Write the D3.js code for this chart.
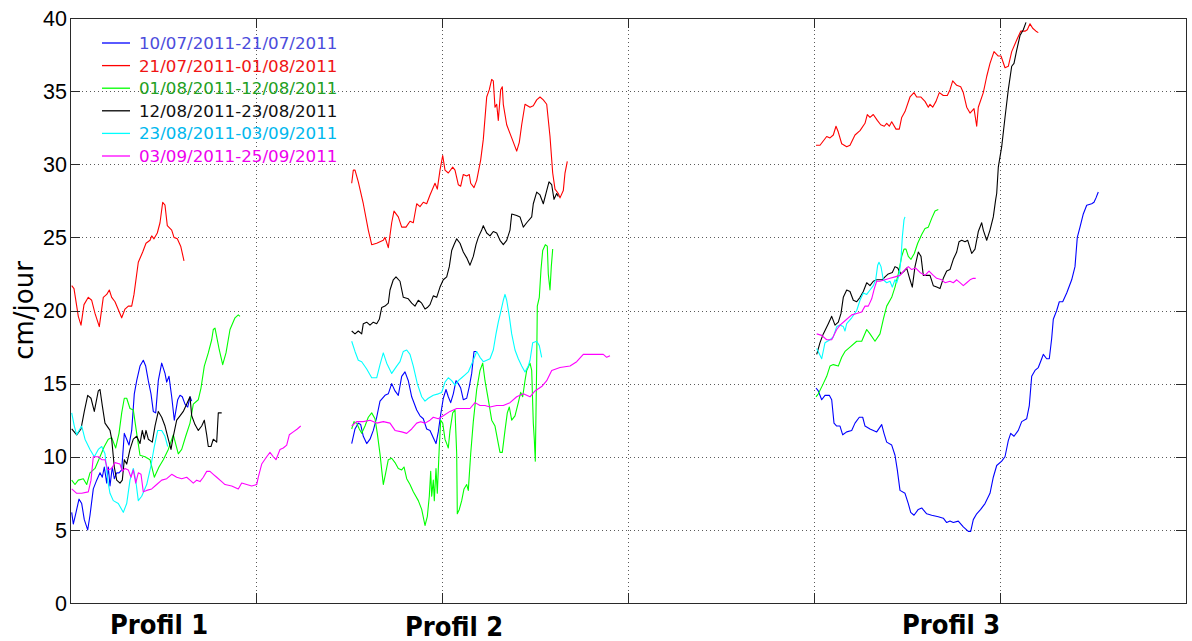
<!DOCTYPE html>
<html>
<head>
<meta charset="utf-8">
<script src="https://cdn.jsdelivr.net/npm/d3@7"></script>
<style>
  html, body { margin: 0; padding: 0; background: #fff; }
  svg { display: block; }
</style>
</head>
<body>
<svg id="chart" width="1192" height="641"></svg>
<script>
// Périodes de mesure (légende) et couleurs associées
const periods = [
  "10/07/2011-21/07/2011",
  "21/07/2011-01/08/2011",
  "01/08/2011-12/08/2011",
  "12/08/2011-23/08/2011",
  "23/08/2011-03/09/2011",
  "03/09/2011-25/09/2011"
];
const lineColors = ["#0000ff", "#ff0000", "#00ff00", "#000000", "#00ffff", "#ff00ff"];
const textColors = ["#4c4cdc", "#f01414", "#22a022", "#111111", "#00b8ee", "#ee00ee"];

const yTicks = [0, 5, 10, 15, 20, 25, 30, 35, 40];
const xTicks = [0, 186, 372, 558, 744, 930, 1116];
const profils = [
  { label: "Profil 1", at: 89 },
  { label: "Profil 2", at: 384 },
  { label: "Profil 3", at: 881 }
];

// Vitesses (cm/jour) le long des trois profils : [position, vitesse]
const juil10 = [
  [[1.7,6.2],[3.3,5.4],[5.7,6.1],[9,7.1],[11.7,6.8],[14.3,5.7],[17.7,5.0],[20,6.0],[23.3,7.8],[26.7,8.4],[30,8.9],[32.3,8.6],[34.3,9.3],[36.7,8.2],[38.3,9.3],[40,8.0],[42.3,9.3],[44.3,8.5],[46.7,8.9],[49,8.9],[51.7,9.1],[54.3,11.6],[56.7,11.2],[59,10.8],[61.7,11.8],[64.3,14.3],[66.7,15.2],[70,16.2],[73.3,16.6],[75.7,16.2],[78.3,15.2],[81,14.3],[83.3,13.1],[85.7,13.0],[88.3,15.2],[91.7,16.4],[95,15.7],[96.7,15.1],[99,15.5],[101.7,14.1],[104.3,12.5],[107.7,13.9],[110,14.2],[112.3,14.1],[115,13.6],[117.7,13.4],[120,14.1],[121.7,13.8]],
  [[281.7,10.9],[285,11.9],[288.3,12.3],[290.7,12.2],[293.3,11.4],[296.7,10.9],[300,11.2],[303.3,11.8],[306.7,12.7],[310,13.8],[315,14.2],[318.3,14.3],[321.7,15.0],[325,14.5],[328.3,14.2],[331.7,15.5],[335,15.8],[338.3,15.2],[341.7,14.1],[346.7,13.2],[350,12.8],[353.3,12.6],[356.7,11.9],[360,11.8],[363.3,11.3],[366,10.9],[368.3,11.7],[370.7,12.9],[373.3,14.0],[376,14.6],[378.3,14.1],[380.7,13.7],[383.3,14.3],[386,15.2],[388.3,15.0],[390.7,14.7],[393.3,13.9],[396.7,14.0],[399.3,14.8],[401.7,15.7],[404,17.2],[406.7,17.2]],
  [[746,14.7],[748.3,14.5],[751.7,13.9],[755,14.2],[759.3,14.2],[761.7,13.9],[764,12.3],[766.7,12.1],[770,12.1],[772.7,11.5],[776.7,11.7],[781.7,11.8],[785,12.3],[789.3,12.7],[792.7,12.7],[795,12.1],[800,11.9],[806.7,11.7],[811.7,12.2],[814,11.6],[816.7,11.0],[821.7,10.8],[825,10.1],[827.3,9.1],[830,7.7],[835,7.5],[838.3,6.8],[840.7,6.2],[844,6.0],[848.3,6.4],[851.7,6.5],[856.7,6.1],[861.7,6.0],[868.3,5.9],[873.3,5.8],[876.7,5.5],[880,5.6],[883.3,5.5],[888.3,5.6],[893.3,5.2],[898.3,4.9],[900.7,4.9],[903.3,5.7],[906.7,6.1],[910.7,6.4],[915,6.8],[920,7.5],[923.3,8.6],[926.7,9.4],[931.7,9.7],[935,10.0],[938.3,11.1],[940.7,11.6],[944,11.4],[948.3,11.8],[951.7,12.4],[956.7,12.6],[959.3,13.5],[961.7,15.5],[965,15.9],[968.3,16.1],[971.7,16.7],[973.3,17.0],[976.7,16.7],[979.3,16.7],[981.7,18.1],[983.3,19.4],[986.7,20.0],[989.3,20.6],[992.7,20.6],[996.7,21.2],[1001.7,22.1],[1005,23.0],[1007.3,25.0],[1010,25.7],[1013.3,26.6],[1016.7,27.2],[1021.7,27.3],[1024,27.4],[1026,27.7],[1028.3,28.1]]
];

const juil21 = [
  [[1.7,21.7],[4,21.5],[8.3,19.6],[11,19.0],[14,20.4],[18.3,20.9],[21.7,20.7],[25,19.8],[29.3,18.9],[33.3,20.9],[36.7,21.1],[39.3,21.4],[41.7,20.9],[45,20.6],[51.7,19.5],[55,20.1],[58.3,20.3],[61.7,20.3],[64,21.1],[68.3,23.3],[72.7,24.0],[76,24.6],[80,24.8],[81.7,25.1],[84,24.9],[87.3,25.3],[90,26.0],[92.7,27.4],[95,27.2],[97.3,25.8],[101.7,25.5],[104,25.0],[107.3,24.9],[110.7,24.4],[114,23.4]],
  [[281.7,28.7],[283.3,29.6],[285,29.6],[288.3,28.8],[293.3,27.3],[298.3,25.5],[301.7,24.5],[306.7,24.6],[313.3,24.8],[315,25.0],[318.3,24.3],[321.7,26.0],[324,26.8],[328.3,26.4],[331.7,25.7],[336,25.7],[340,26.1],[343.3,26.0],[346.7,27.3],[350,27.1],[353.3,27.4],[356.7,27.3],[360,27.9],[365,28.7],[367.3,28.3],[370,29.6],[372.7,30.6],[375,29.6],[378.3,29.4],[382.7,29.8],[385,29.6],[388.3,28.6],[390.7,28.5],[393.3,29.3],[396.7,29.2],[399.3,29.3],[400.7,28.7],[404,28.4],[406.7,28.9],[410.7,30.3],[413.3,31.7],[416.7,34.6],[419.3,35.1],[421.7,35.8],[423.3,35.7],[425,33.9],[426.7,34.1],[428.3,33.0],[430.7,35.1],[432.3,35.3],[433.3,34.1],[436.7,32.7],[441.7,31.8],[446.7,30.9],[449.3,31.5],[451.7,32.7],[455,34.1],[460,33.9],[463.3,34.0],[466.7,34.4],[470,34.6],[473.3,34.4],[476.7,34.1],[480,31.9],[482.7,29.4],[485,28.3],[488.3,28.0],[490,27.7],[493.3,28.2],[495,29.4],[497.3,30.2]],
  [[746,31.3],[750,31.3],[756.7,31.9],[760,31.8],[763.3,32.0],[766,32.6],[768.3,32.2],[771.7,31.4],[776.7,31.2],[780,31.3],[785,32.0],[790,32.3],[795,32.8],[797.3,33.4],[800,33.2],[803.3,33.4],[807.3,33.0],[810.7,32.7],[814.3,32.6],[816.7,32.8],[819.3,32.6],[821.7,32.9],[826,32.4],[829.3,32.4],[831.7,33.2],[835,33.6],[840,34.6],[844,34.9],[846.7,34.6],[850.7,34.6],[855,34.3],[858.3,33.9],[860,34.1],[862.7,33.9],[866,34.3],[869.3,34.9],[873.3,34.7],[877.3,34.7],[880,35.1],[882.7,35.7],[886.7,35.4],[890.7,35.3],[893.3,34.9],[896.7,33.9],[900,33.5],[904,33.8],[906.7,32.6],[908.3,33.9],[913.3,34.9],[916.7,36.0],[920,36.9],[924,37.7],[928.3,37.4],[931,37.4],[935,36.6],[938.3,36.7],[941.7,37.7],[946.7,38.5],[950.7,39.1],[955,39.1],[957.3,39.2],[960,39.6],[962.7,39.3],[966,39.1],[968.3,39.0]]
];

const aout01 = [
  [[1.7,8.4],[5,8.1],[8.3,8.4],[13.3,8.5],[16.7,8.1],[20,8.9],[25,9.2],[30,10.0],[34.3,10.7],[38.3,11.2],[41.7,11.3],[45.7,10.6],[49,11.6],[51.7,13.0],[54.3,14.0],[56.7,14.0],[60,13.3],[63.3,13.2],[66.7,11.6],[70,10.1],[75,10.0],[80,9.8],[84.3,8.6],[89,9.3],[93.3,9.8],[98.3,10.5],[103.3,11.5],[108.3,10.2],[111.7,10.5],[115.7,11.4],[120,12.3],[123.3,13.6],[128.3,13.9],[131,14.7],[134.3,16.2],[138.3,17.1],[141.7,18.0],[143.3,18.7],[145,18.8],[149.3,17.3],[152.7,16.3],[156,17.1],[160,18.7],[165,19.5],[168.3,19.7],[170,19.6]],
  [[281.7,11.9],[284,12.4],[286.7,12.3],[289.3,11.9],[291.7,11.6],[295,12.1],[298.3,12.7],[301.7,13.0],[305,12.6],[307.3,11.6],[310,10.2],[311.7,9.1],[313.3,8.1],[315.7,8.9],[318.3,9.8],[321.7,9.9],[325,9.6],[328.3,9.2],[331.7,9.1],[334,9.3],[336.7,8.5],[340,8.1],[343.3,7.6],[348.3,7.0],[351.7,6.4],[355,5.3],[357.3,5.9],[359.3,7.3],[360.7,9.0],[361.7,7.3],[363.3,8.4],[364.3,7.0],[366,9.2],[367.3,7.5],[369.3,10.7],[370.7,12.5],[372.7,12.3],[375,11.2],[376.7,10.9],[378.3,10.6],[380,11.8],[382.7,13.0],[385,13.2],[386.7,10.2],[387.3,6.1],[389.3,6.4],[391.7,7.0],[394,7.8],[396.7,8.1],[398.3,7.7],[400.7,10.2],[403.3,12.4],[406.7,14.6],[410,15.9],[412.7,16.4],[415,15.2],[418.3,13.9],[421.7,12.5],[425,12.1],[428.3,10.9],[430,10.3],[432.3,10.3],[435,11.8],[437.3,13.0],[439.3,13.4],[441.7,12.5],[445,12.8],[448.3,13.7],[450.7,14.4],[452.7,14.1],[455,15.2],[456.7,15.9],[460,16.4],[461.7,15.9],[463.3,12.3],[464.3,11.2],[465.3,9.7],[466.7,16.4],[467.3,20.3],[469.3,20.9],[471,22.8],[472.7,24.1],[475.3,24.5],[477.3,24.4],[478.3,22.5],[480,21.4],[481.3,23.0],[482.7,24.2]],
  [[746,14.1],[748.3,14.3],[753.3,15.0],[756.7,15.5],[760,16.2],[763.3,16.3],[768.3,16.2],[771.7,16.8],[775,17.2],[780,17.5],[786.7,17.9],[791.7,17.9],[796.7,18.7],[800,18.4],[805,17.9],[810,18.4],[813.3,19.4],[816.7,20.3],[821.7,20.9],[825,21.6],[828.3,22.5],[831.7,23.7],[834,24.2],[836,24.2],[838.3,23.7],[841,23.5],[844.3,23.9],[847.7,24.6],[851.7,25.2],[855,25.6],[858.3,25.7],[861.7,26.3],[865,26.8],[868.3,26.9]]
];

const aout12 = [
  [[1.7,11.9],[6.7,11.5],[11,11.9],[14.3,13.1],[17.7,14.2],[21,14.0],[24.3,13.1],[28.3,14.5],[30,14.6],[32.3,13.5],[35,12.3],[40,11.8],[41.7,11.2],[44.3,9.3],[46.7,8.4],[50,8.2],[52.3,8.4],[54.3,9.8],[56.7,9.5],[60,10.5],[63.3,11.2],[66.7,11.4],[70,10.9],[72.3,11.8],[74.3,11.2],[76,11.8],[78.3,11.2],[82.3,11.0],[85,12.1],[88.3,13.1],[91.7,12.7],[95,12.1],[98.3,11.2],[101,10.5],[103.3,11.4],[106.7,12.5],[110,12.8],[113.3,13.1],[116.7,13.6],[120,14.1],[121.7,12.8],[125,12.2],[128.3,11.8],[131.7,12.1],[134.3,12.5],[136.7,11.5],[138.3,10.7],[141,10.7],[143.3,11.2],[146.7,11.0],[148.3,13.0],[151.7,13.0]],
  [[281.7,18.6],[285,18.4],[288.3,18.6],[291.7,18.4],[293.3,19.1],[296.7,19.2],[300,19.0],[303.3,19.2],[306.7,19.1],[309.3,19.4],[311.7,20.2],[315,20.3],[318.3,20.5],[320,21.4],[323.3,22.1],[326,22.3],[330,22.0],[333.3,20.9],[338.3,20.8],[341.7,20.5],[345,20.3],[348.3,20.7],[351.7,20.5],[355,20.1],[357.3,20.2],[360,20.4],[363.3,21.0],[366.7,20.9],[370,21.6],[373.3,22.1],[376.7,22.3],[379.3,23.0],[381.7,24.1],[384,24.5],[386.7,24.9],[390,24.6],[393.3,24.0],[396.7,23.6],[400,23.1],[403.3,23.7],[406,24.5],[408.3,25.0],[411.7,25.5],[413.3,25.8],[416.7,25.3],[420,25.1],[423.3,25.4],[426.7,25.3],[430,24.8],[433.3,24.5],[436.7,24.8],[440,25.5],[441.7,26.6],[446.7,26.5],[450,26.4],[453.3,25.7],[456.7,26.0],[461.7,26.4],[463.3,27.3],[466.7,28.1],[470,27.9],[473.3,27.3],[476.7,28.2],[479,28.8],[481.7,28.6],[484,27.6],[486.7,28.0],[488.3,27.8]],
  [[746.7,17.0],[750,17.8],[753.3,18.4],[758.3,19.1],[761.7,19.6],[765,19.0],[768.3,19.2],[771,19.8],[773.3,20.9],[776.7,21.4],[780,21.3],[783.3,20.7],[786.7,20.6],[790,20.9],[793.3,21.3],[796.7,21.9],[800,21.7],[803.3,22.0],[806.7,22.1],[810,22.1],[812.3,22.1],[815,22.3],[818.3,22.5],[822.3,22.6],[825,23.0],[827.7,22.9],[831,22.5],[834.3,22.7],[836.7,22.9],[840,22.1],[842.3,21.6],[845,23.0],[848.3,24.0],[851,23.7],[853.3,22.4],[856.7,22.4],[860,22.4],[863.3,21.7],[866.7,21.6],[870,21.5],[873.3,22.2],[876.7,22.7],[880,22.8],[883.3,23.5],[886.7,24.0],[889,24.7],[891.7,24.8],[895,24.7],[897.7,24.8],[901.7,23.9],[905,24.2],[908.3,25.4],[911.7,26.0],[913.3,25.5],[916.7,24.8],[920,25.5],[923.3,26.4],[925.7,27.6],[926.7,28.0],[928.3,29.8],[930,30.5],[931.7,31.2],[935,33.2],[938.3,35.1],[941.7,36.7],[944,36.9],[946.7,37.8],[950,38.8],[953.3,39.2],[956,39.7]]
];

const aout23 = [
  [[1.7,13.0],[4.3,12.1],[6.7,11.5],[9,11.8],[11.7,12.1],[15,11.2],[20,10.5],[24.3,10.0],[28.3,10.5],[31.7,10.7],[35,10.2],[37.7,8.4],[40,7.5],[43.3,7.0],[48.3,6.8],[53.3,6.2],[56.7,6.8],[60,8.4],[63.3,9.2],[65.7,8.4],[68.3,7.0],[71.7,7.3],[76.7,8.1],[81,9.4],[84.3,10.7],[87.7,11.8],[91.7,11.8],[95,11.4],[97.7,10.7]],
  [[281.7,17.9],[285,17.2],[288.3,16.6],[291.7,16.5],[296.7,16.0],[301.7,15.4],[306.7,15.4],[310,16.3],[313.3,17.1],[316.7,16.4],[321.7,15.7],[326.7,16.2],[330,16.5],[333.3,17.2],[336.7,17.3],[340,17.0],[343.3,16.2],[347.3,15.0],[351.7,14.1],[355,13.8],[358.3,14.0],[363.3,14.2],[368.3,14.3],[371.7,14.4],[375,15.1],[378.3,15.4],[381.7,15.2],[385,14.9],[388.3,15.2],[391.7,15.4],[395,15.6],[398.3,15.8],[403.3,16.6],[406.7,17.2],[410,16.8],[413.3,16.5],[416.7,16.6],[420,16.7],[423.3,17.3],[426,18.4],[428.3,19.2],[430.7,19.9],[433.3,20.7],[435,21.1],[436.7,20.7],[439.3,19.6],[441.7,18.4],[445,17.3],[448.3,16.7],[451.7,16.2],[455,15.8],[458.3,16.2],[460,16.6],[462.7,17.8],[466.7,17.9],[469.3,17.6],[471.7,16.8]],
  [[746.7,17.4],[751.7,16.7],[755,17.8],[760,18.0],[763.3,18.2],[766.7,18.9],[770,19.0],[773.3,18.9],[775,18.6],[776.7,19.1],[781.7,19.5],[786.7,20.0],[790,20.7],[793.3,21.2],[796.7,21.1],[800,21.4],[803.3,21.7],[805.7,22.1],[807.7,23.1],[809,23.3],[811,23.0],[813.3,22.1],[816.7,21.9],[820,22.0],[822.3,21.6],[825,22.1],[826.7,21.9],[829,22.4],[831,23.5],[832.3,25.0],[834,26.2],[835,26.4]]
];

const sept03 = [
  [[1.7,7.8],[6.7,7.5],[11.7,7.5],[18.3,7.6],[21,8.4],[23.3,10.0],[28.3,10.0],[31.7,9.8],[35,9.8],[37.7,9.1],[41.7,9.2],[45,9.6],[50,9.5],[52.3,9.0],[55,9.2],[58.3,9.1],[61,8.6],[63.3,9.1],[65.7,8.2],[68.3,8.9],[71,8.8],[73.3,7.6],[76.7,7.7],[81.7,7.8],[86.7,8.1],[91.7,8.4],[96.7,8.5],[101.7,8.8],[106.7,8.6],[111.7,8.5],[116.7,8.6],[120,8.4],[123.3,8.2],[126.7,8.4],[130,8.3],[133.3,8.6],[136.7,9.0],[140,9.0],[143.3,8.8],[146.7,8.6],[151.7,8.3],[155,8.1],[161.7,8.0],[168.3,7.8],[171.7,8.2],[176.7,8.1],[181.7,8.0],[186.7,8.1],[188.3,8.6],[191.7,9.5],[196.7,10.0],[200,10.3],[203.3,10.0],[206,9.8],[210,10.5],[213.3,10.6],[216.7,10.8],[219.3,11.5],[223.3,11.7],[227.3,11.9],[230.7,12.1]],
  [[281.7,12.1],[286.7,12.4],[293.3,12.4],[300,12.5],[306.7,12.3],[313.3,12.4],[320,12.3],[325,11.8],[331.7,11.7],[336.7,11.6],[341.7,11.9],[346.7,12.3],[350.7,12.4],[355,12.3],[360,12.5],[363.3,12.7],[368.3,12.6],[373.3,12.8],[380,13.1],[386.7,13.3],[393.3,13.3],[400,13.3],[405,13.7],[410,13.5],[415,13.5],[420,13.4],[426.7,13.5],[433.3,13.5],[440,13.7],[446.7,14.1],[453.3,14.3],[460,14.1],[465,14.5],[471.7,14.8],[476.7,15.2],[481.7,15.9],[490,16.1],[500,16.2],[506.7,16.5],[513.3,17.0],[520,17.0],[526.7,17.0],[533.3,17.0],[536.7,16.8],[540,16.9]],
  [[746.7,18.4],[751.7,18.3],[756.7,18.0],[761.7,18.0],[766.7,18.7],[770,19.0],[775,19.3],[781.7,19.7],[786.7,19.8],[791.7,19.9],[795,20.3],[798.3,20.3],[801.7,20.8],[804.3,21.5],[806.7,22.0],[810,22.0],[815,22.1],[820,22.2],[825,22.3],[830,22.4],[835,22.8],[838.3,23.0],[841.7,22.8],[845.7,22.9],[850,22.6],[855,22.4],[859,22.7],[863.3,22.4],[866.7,22.2],[871.7,22.1],[875,21.9],[880,22.0],[883.3,21.9],[886.7,22.1],[890,21.9],[893.3,21.7],[896.7,21.9],[900,22.1],[903.3,22.2],[905.7,22.2]]
];

const seriesData = [juil10, juil21, aout01, aout12, aout23, sept03];

// ---- Mise en page ----
const svg = d3.select("#chart");
const plot = { left: 70, top: 18, right: 1186, bottom: 603 };

const x = d3.scaleLinear().domain([0, 1116]).range([plot.left, plot.right]);
const y = d3.scaleLinear().domain([0, 40]).range([plot.bottom, plot.top]);

const gridColor = "#5a5a5a";
const axisColor = "#2a2a2a";
const tickLen = 10;

// Quadrillage pointillé
const grid = svg.append("g");
grid.selectAll("line.gy")
  .data(yTicks.filter(v => v > 0 && v < 40))
  .join("line")
  .attr("x1", plot.left).attr("x2", plot.right)
  .attr("y1", d => Math.round(y(d)) + 0.5).attr("y2", d => Math.round(y(d)) + 0.5)
  .attr("stroke", gridColor).attr("stroke-width", 1)
  .attr("stroke-dasharray", "1,3");
grid.selectAll("line.gx")
  .data(xTicks.filter(v => v > 0 && v < 1116))
  .join("line")
  .attr("x1", d => Math.round(x(d)) + 0.5).attr("x2", d => Math.round(x(d)) + 0.5)
  .attr("y1", plot.top).attr("y2", plot.bottom)
  .attr("stroke", gridColor).attr("stroke-width", 1)
  .attr("stroke-dasharray", "1,3");

// Courbes de vitesse
const line = d3.line().x(d => x(d[0])).y(d => y(d[1]));
const curves = svg.append("g").attr("fill", "none").attr("stroke-width", 1.1)
  .attr("stroke-linejoin", "round");
seriesData.forEach((segments, i) => {
  curves.selectAll(null)
    .data(segments)
    .join("path")
    .attr("d", line)
    .attr("stroke", lineColors[i]);
});

// Cadre et graduations (intérieures, sur les quatre côtés)
const frame = svg.append("g").attr("stroke", axisColor).attr("stroke-width", 1);
frame.append("rect")
  .attr("x", plot.left + 0.5).attr("y", plot.top + 0.5)
  .attr("width", plot.right - plot.left).attr("height", plot.bottom - plot.top)
  .attr("fill", "none");
yTicks.forEach(v => {
  const yy = Math.round(y(v)) + 0.5;
  frame.append("line").attr("x1", plot.left).attr("x2", plot.left + tickLen).attr("y1", yy).attr("y2", yy);
  frame.append("line").attr("x1", plot.right - tickLen).attr("x2", plot.right).attr("y1", yy).attr("y2", yy);
});
xTicks.forEach(v => {
  const xx = Math.round(x(v)) + 0.5;
  frame.append("line").attr("x1", xx).attr("x2", xx).attr("y1", plot.top).attr("y2", plot.top + tickLen);
  frame.append("line").attr("x1", xx).attr("x2", xx).attr("y1", plot.bottom - tickLen).attr("y2", plot.bottom);
});

// Étiquettes de l'axe vertical
svg.append("g")
  .selectAll("text")
  .data(yTicks)
  .join("text")
  .attr("x", plot.left - 3)
  .attr("y", d => y(d))
  .attr("dy", "0.36em")
  .attr("text-anchor", "end")
  .attr("font-family", "'Liberation Sans', Arial, sans-serif")
  .attr("font-size", 21.5)
  .attr("fill", "#000")
  .text(d => d);

svg.append("text")
  .attr("transform", `translate(33, ${(plot.top + plot.bottom) / 2}) rotate(-90)`)
  .attr("text-anchor", "middle")
  .attr("font-family", "'DejaVu Sans', sans-serif")
  .attr("font-size", 26)
  .attr("fill", "#000")
  .text("cm/jour");

// Noms des profils sous l'axe horizontal
svg.append("g")
  .selectAll("text")
  .data(profils)
  .join("text")
  .attr("x", d => x(d.at))
  .attr("y", (d, i) => i === 1 ? 636 : 634)
  .attr("text-anchor", "middle")
  .attr("font-family", "'DejaVu Sans Condensed', 'DejaVu Sans', sans-serif")
  .attr("font-stretch", "condensed")
  .attr("font-weight", "bold")
  .attr("font-size", 27)
  .attr("fill", "#000")
  .text(d => d.label);

// Légende
const legend = svg.append("g");
const rowY = i => 43 + i * 22.6;
legend.selectAll("line")
  .data(periods)
  .join("line")
  .attr("x1", 102).attr("x2", 130)
  .attr("y1", (d, i) => rowY(i)).attr("y2", (d, i) => rowY(i))
  .attr("stroke", (d, i) => lineColors[i])
  .attr("stroke-width", 1.3);
legend.selectAll("text")
  .data(periods)
  .join("text")
  .attr("x", 139)
  .attr("y", (d, i) => rowY(i))
  .attr("dy", "0.36em")
  .attr("font-family", "'DejaVu Sans', sans-serif")
  .attr("font-size", 16.7)
  .attr("fill", (d, i) => textColors[i])
  .text(d => d);
</script>
</body>
</html>
